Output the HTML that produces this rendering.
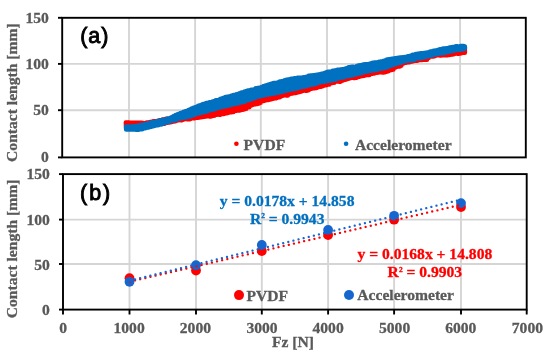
<!DOCTYPE html>
<html><head><meta charset="utf-8"><title>Contact length vs Fz</title>
<style>
html,body{margin:0;padding:0;background:#fff;}
svg{display:block;will-change:transform;}
text{font-family:"Liberation Serif","DejaVu Serif",serif;font-weight:bold;font-size:15.6px;fill:#595959;stroke:#595959;stroke-width:0.3px;}
.lbl{font-family:"Liberation Sans","DejaVu Sans",sans-serif;font-weight:400;font-size:21.5px;fill:#000;stroke:#000;stroke-width:0.9px;letter-spacing:0.9px;}
.be{fill:#0070c0;stroke:#0070c0;} .re{fill:#ff0000;stroke:#ff0000;}
</style></head><body>
<svg width="550" height="353" viewBox="0 0 550 353">
<rect width="550" height="353" fill="#fff"/>
<g id="top">
<line x1="129.0" y1="17.8" x2="129.0" y2="157.4" stroke="#d5d5d5" stroke-width="1.9"/>
<line x1="195.1" y1="17.8" x2="195.1" y2="157.4" stroke="#d5d5d5" stroke-width="1.9"/>
<line x1="260.8" y1="17.8" x2="260.8" y2="157.4" stroke="#d5d5d5" stroke-width="1.9"/>
<line x1="327.0" y1="17.8" x2="327.0" y2="157.4" stroke="#d5d5d5" stroke-width="1.9"/>
<line x1="393.9" y1="17.8" x2="393.9" y2="157.4" stroke="#d5d5d5" stroke-width="1.9"/>
<line x1="460.1" y1="17.8" x2="460.1" y2="157.4" stroke="#d5d5d5" stroke-width="1.9"/>
<line x1="62.2" y1="110.2" x2="525.8" y2="110.2" stroke="#d5d5d5" stroke-width="1.9"/>
<line x1="62.2" y1="63.9" x2="525.8" y2="63.9" stroke="#d5d5d5" stroke-width="1.9"/>
<polygon points="125.9,122.5 127.5,122.5 127.5,122.5 129.1,122.5 129.1,122.8 130.7,122.8 130.7,122.8 132.3,122.8 132.3,122.8 133.9,122.8 133.9,122.7 135.5,122.7 135.5,122.7 137.1,122.7 137.1,122.7 138.7,122.7 138.7,122.9 140.3,122.9 140.3,122.9 141.9,122.9 141.9,123.0 143.5,123.0 143.5,123.2 145.1,123.2 145.1,123.0 146.7,123.0 146.7,122.6 148.3,122.6 148.3,122.5 149.9,122.5 149.9,122.0 151.5,122.0 151.5,121.7 153.1,121.7 153.1,121.4 154.7,121.4 154.7,121.2 156.3,121.2 156.3,121.2 157.9,121.2 157.9,120.8 159.5,120.8 159.5,120.4 161.1,120.4 161.1,120.1 162.7,120.1 162.7,119.5 164.3,119.5 164.3,119.2 165.9,119.2 165.9,118.9 167.5,118.9 167.5,119.0 169.1,119.0 169.1,118.9 170.7,118.9 170.7,118.0 172.3,118.0 172.3,117.3 173.9,117.3 173.9,116.5 175.5,116.5 175.5,115.9 177.1,115.9 177.1,115.2 178.7,115.2 178.7,114.7 180.3,114.7 180.3,114.0 181.9,114.0 181.9,113.1 183.5,113.1 183.5,112.5 185.1,112.5 185.1,111.9 186.7,111.9 186.7,111.5 188.3,111.5 188.3,110.8 189.9,110.8 189.9,110.1 191.5,110.1 191.5,109.2 193.1,109.2 193.1,108.6 194.7,108.6 194.7,108.0 196.3,108.0 196.3,107.4 197.9,107.4 197.9,107.1 199.5,107.1 199.5,106.5 201.1,106.5 201.1,106.0 202.7,106.0 202.7,105.3 204.3,105.3 204.3,104.6 205.9,104.6 205.9,104.3 207.5,104.3 207.5,103.7 209.1,103.7 209.1,103.2 210.7,103.2 210.7,102.6 212.3,102.6 212.3,102.1 213.9,102.1 213.9,101.8 215.5,101.8 215.5,101.3 217.1,101.3 217.1,100.7 218.7,100.7 218.7,100.1 220.3,100.1 220.3,99.6 221.9,99.6 221.9,99.1 223.5,99.1 223.5,98.6 225.1,98.6 225.1,98.4 226.7,98.4 226.7,97.9 228.3,97.9 228.3,97.4 229.9,97.4 229.9,96.6 231.5,96.6 231.5,96.2 233.1,96.2 233.1,95.7 234.7,95.7 234.7,95.3 236.3,95.3 236.3,94.8 237.9,94.8 237.9,94.4 239.5,94.4 239.5,93.9 241.1,93.9 241.1,93.6 242.7,93.6 242.7,93.2 244.3,93.2 244.3,92.6 245.9,92.6 245.9,92.1 247.5,92.1 247.5,91.7 249.1,91.7 249.1,91.5 250.7,91.5 250.7,90.8 252.3,90.8 252.3,90.5 253.9,90.5 253.9,90.1 255.5,90.1 255.5,89.6 257.1,89.6 257.1,89.2 258.7,89.2 258.7,88.5 260.3,88.5 260.3,88.0 261.9,88.0 261.9,87.5 263.5,87.5 263.5,87.1 265.1,87.1 265.1,86.6 266.7,86.6 266.7,86.1 268.3,86.1 268.3,85.8 269.9,85.8 269.9,85.3 271.5,85.3 271.5,84.9 273.1,84.9 273.1,84.3 274.7,84.3 274.7,83.7 276.3,83.7 276.3,83.4 277.9,83.4 277.9,83.1 279.5,83.1 279.5,82.3 281.1,82.3 281.1,82.3 282.7,82.3 282.7,81.6 284.3,81.6 284.3,81.1 285.9,81.1 285.9,80.7 287.5,80.7 287.5,80.4 289.1,80.4 289.1,80.0 290.7,80.0 290.7,79.8 292.3,79.8 292.3,79.8 293.9,79.8 293.9,79.6 295.5,79.6 295.5,79.4 297.1,79.4 297.1,79.1 298.7,79.1 298.7,78.9 300.3,78.9 300.3,78.7 301.9,78.7 301.9,78.4 303.5,78.4 303.5,77.8 305.1,77.8 305.1,77.4 306.7,77.4 306.7,77.1 308.3,77.1 308.3,76.8 309.9,76.8 309.9,76.5 311.5,76.5 311.5,76.2 313.1,76.2 313.1,75.8 314.7,75.8 314.7,75.6 316.3,75.6 316.3,75.6 317.9,75.6 317.9,75.2 319.5,75.2 319.5,74.8 321.1,74.8 321.1,74.5 322.7,74.5 322.7,74.1 324.3,74.1 324.3,73.7 325.9,73.7 325.9,73.3 327.5,73.3 327.5,73.2 329.1,73.2 329.1,72.8 330.7,72.8 330.7,72.2 332.3,72.2 332.3,71.9 333.9,71.9 333.9,71.6 335.5,71.6 335.5,71.0 337.1,71.0 337.1,70.7 338.7,70.7 338.7,70.7 340.3,70.7 340.3,70.0 341.9,70.0 341.9,70.0 343.5,70.0 343.5,69.7 345.1,69.7 345.1,69.3 346.7,69.3 346.7,69.1 348.3,69.1 348.3,68.6 349.9,68.6 349.9,68.4 351.5,68.4 351.5,68.2 353.1,68.2 353.1,67.5 354.7,67.5 354.7,67.2 356.3,67.2 356.3,66.8 357.9,66.8 357.9,66.5 359.5,66.5 359.5,66.5 361.1,66.5 361.1,66.2 362.7,66.2 362.7,65.8 364.3,65.8 364.3,65.5 365.9,65.5 365.9,65.1 367.5,65.1 367.5,64.9 369.1,64.9 369.1,64.6 370.7,64.6 370.7,64.0 372.3,64.0 372.3,64.0 373.9,64.0 373.9,63.6 375.5,63.6 375.5,63.3 377.1,63.3 377.1,63.1 378.7,63.1 378.7,62.9 380.3,62.9 380.3,62.6 381.9,62.6 381.9,62.1 383.5,62.1 383.5,61.5 385.1,61.5 385.1,61.2 386.7,61.2 386.7,60.8 388.3,60.8 388.3,60.4 389.9,60.4 389.9,59.9 391.5,59.9 391.5,59.5 393.1,59.5 393.1,59.2 394.7,59.2 394.7,59.3 396.3,59.3 396.3,58.8 397.9,58.8 397.9,58.8 399.5,58.8 399.5,58.5 401.1,58.5 401.1,58.0 402.7,58.0 402.7,57.8 404.3,57.8 404.3,57.5 405.9,57.5 405.9,57.3 407.5,57.3 407.5,57.0 409.1,57.0 409.1,56.7 410.7,56.7 410.7,56.6 412.3,56.6 412.3,56.0 413.9,56.0 413.9,55.6 415.5,55.6 415.5,55.3 417.1,55.3 417.1,54.9 418.7,54.9 418.7,54.6 420.3,54.6 420.3,54.2 421.9,54.2 421.9,53.9 423.5,53.9 423.5,53.6 425.1,53.6 425.1,53.6 426.7,53.6 426.7,53.2 428.3,53.2 428.3,52.8 429.9,52.8 429.9,52.3 431.5,52.3 431.5,52.0 433.1,52.0 433.1,51.9 434.7,51.9 434.7,51.6 436.3,51.6 436.3,51.2 437.9,51.2 437.9,50.8 439.5,50.8 439.5,50.2 441.1,50.2 441.1,49.9 442.7,49.9 442.7,49.7 444.3,49.7 444.3,49.5 445.9,49.5 445.9,49.2 447.5,49.2 447.5,49.0 449.1,49.0 449.1,48.7 450.7,48.7 450.7,48.3 452.3,48.3 452.3,48.0 453.9,48.0 453.9,47.7 455.5,47.7 455.5,47.4 457.1,47.4 457.1,47.3 458.7,47.3 458.7,47.2 460.3,47.2 460.3,47.1 461.9,47.1 461.9,47.0 463.5,47.0 463.5,47.2 464.8,47.2 464.8,52.7 463.8,52.7 463.8,52.8 462.2,52.8 462.2,53.0 460.6,53.0 460.6,53.5 459.0,53.5 459.0,53.7 457.4,53.7 457.4,53.2 455.8,53.2 455.8,53.4 454.2,53.4 454.2,54.1 452.6,54.1 452.6,54.4 451.0,54.4 451.0,54.8 449.4,54.8 449.4,55.0 447.8,55.0 447.8,55.1 446.2,55.1 446.2,55.1 444.6,55.1 444.6,55.2 443.0,55.2 443.0,55.3 441.4,55.3 441.4,55.4 439.8,55.4 439.8,55.0 438.2,55.0 438.2,55.1 436.6,55.1 436.6,55.0 435.0,55.0 435.0,56.1 433.4,56.1 433.4,56.4 431.8,56.4 431.8,56.0 430.2,56.0 430.2,56.6 428.6,56.6 428.6,58.0 427.0,58.0 427.0,59.7 425.4,59.7 425.4,59.5 423.8,59.5 423.8,59.7 422.2,59.7 422.2,59.9 420.6,59.9 420.6,60.0 419.0,60.0 419.0,60.2 417.4,60.2 417.4,60.8 415.8,60.8 415.8,60.8 414.2,60.8 414.2,61.0 412.6,61.0 412.6,61.4 411.0,61.4 411.0,61.7 409.4,61.7 409.4,62.2 407.8,62.2 407.8,62.3 406.2,62.3 406.2,62.7 404.6,62.7 404.6,62.5 403.0,62.5 403.0,63.8 401.4,63.8 401.4,65.6 399.8,65.6 399.8,66.4 398.2,66.4 398.2,66.1 396.6,66.1 396.6,67.0 395.0,67.0 395.0,67.8 393.4,67.8 393.4,69.4 391.8,69.4 391.8,70.0 390.2,70.0 390.2,70.3 388.6,70.3 388.6,71.1 387.0,71.1 387.0,71.6 385.4,71.6 385.4,72.1 383.8,72.1 383.8,72.5 382.2,72.5 382.2,72.0 380.6,72.0 380.6,72.3 379.0,72.3 379.0,72.5 377.4,72.5 377.4,72.7 375.8,72.7 375.8,72.9 374.2,72.9 374.2,73.5 372.6,73.5 372.6,73.7 371.0,73.7 371.0,74.0 369.4,74.0 369.4,74.9 367.8,74.9 367.8,74.5 366.2,74.5 366.2,75.1 364.6,75.1 364.6,75.6 363.0,75.6 363.0,75.9 361.4,75.9 361.4,76.2 359.8,76.2 359.8,76.6 358.2,76.6 358.2,76.5 356.6,76.5 356.6,77.7 355.0,77.7 355.0,78.0 353.4,78.0 353.4,77.4 351.8,77.4 351.8,77.7 350.2,77.7 350.2,78.3 348.6,78.3 348.6,78.7 347.0,78.7 347.0,79.3 345.4,79.3 345.4,79.7 343.8,79.7 343.8,80.1 342.2,80.1 342.2,80.7 340.6,80.7 340.6,81.6 339.0,81.6 339.0,81.2 337.4,81.2 337.4,81.4 335.8,81.4 335.8,81.8 334.2,81.8 334.2,82.8 332.6,82.8 332.6,83.0 331.0,83.0 331.0,83.1 329.4,83.1 329.4,84.4 327.8,84.4 327.8,84.4 326.2,84.4 326.2,85.3 324.6,85.3 324.6,85.0 323.0,85.0 323.0,86.1 321.4,86.1 321.4,86.6 319.8,86.6 319.8,86.6 318.2,86.6 318.2,87.2 316.6,87.2 316.6,87.9 315.0,87.9 315.0,88.3 313.4,88.3 313.4,88.3 311.8,88.3 311.8,88.7 310.2,88.7 310.2,89.1 308.6,89.1 308.6,90.2 307.0,90.2 307.0,90.7 305.4,90.7 305.4,90.2 303.8,90.2 303.8,90.6 302.2,90.6 302.2,91.1 300.6,91.1 300.6,91.7 299.0,91.7 299.0,92.1 297.4,92.1 297.4,92.5 295.8,92.5 295.8,92.9 294.2,92.9 294.2,93.0 292.6,93.0 292.6,93.4 291.0,93.4 291.0,93.8 289.4,93.8 289.4,94.2 287.8,94.2 287.8,95.5 286.2,95.5 286.2,95.1 284.6,95.1 284.6,95.3 283.0,95.3 283.0,95.7 281.4,95.7 281.4,96.2 279.8,96.2 279.8,97.2 278.2,97.2 278.2,97.4 276.6,97.4 276.6,98.1 275.0,98.1 275.0,98.3 273.4,98.3 273.4,98.7 271.8,98.7 271.8,99.1 270.2,99.1 270.2,99.5 268.6,99.5 268.6,99.9 267.0,99.9 267.0,99.8 265.4,99.8 265.4,100.5 263.8,100.5 263.8,101.0 262.2,101.0 262.2,101.1 260.6,101.1 260.6,102.8 259.0,102.8 259.0,103.4 257.4,103.4 257.4,104.0 255.8,104.0 255.8,104.1 254.2,104.1 254.2,104.2 252.6,104.2 252.6,105.0 251.0,105.0 251.0,105.6 249.4,105.6 249.4,107.1 247.8,107.1 247.8,107.4 246.2,107.4 246.2,108.7 244.6,108.7 244.6,109.3 243.0,109.3 243.0,109.7 241.4,109.7 241.4,110.0 239.8,110.0 239.8,110.4 238.2,110.4 238.2,110.4 236.6,110.4 236.6,110.7 235.0,110.7 235.0,110.8 233.4,110.8 233.4,112.0 231.8,112.0 231.8,112.3 230.2,112.3 230.2,111.8 228.6,111.8 228.6,112.8 227.0,112.8 227.0,113.2 225.4,113.2 225.4,113.5 223.8,113.5 223.8,113.9 222.2,113.9 222.2,113.7 220.6,113.7 220.6,114.6 219.0,114.6 219.0,114.4 217.4,114.4 217.4,114.6 215.8,114.6 215.8,114.8 214.2,114.8 214.2,115.7 212.6,115.7 212.6,115.9 211.0,115.9 211.0,116.4 209.4,116.4 209.4,115.5 207.8,115.5 207.8,116.2 206.2,116.2 206.2,116.5 204.6,116.5 204.6,116.7 203.0,116.7 203.0,116.9 201.4,116.9 201.4,117.2 199.8,117.2 199.8,117.4 198.2,117.4 198.2,117.7 196.6,117.7 196.6,117.5 195.0,117.5 195.0,118.1 193.4,118.1 193.4,118.3 191.8,118.3 191.8,118.3 190.2,118.3 190.2,119.1 188.6,119.1 188.6,119.3 187.0,119.3 187.0,118.8 185.4,118.8 185.4,118.9 183.8,118.9 183.8,119.4 182.2,119.4 182.2,120.1 180.6,120.1 180.6,119.9 179.0,119.9 179.0,120.2 177.4,120.2 177.4,120.5 175.8,120.5 175.8,121.1 174.2,121.1 174.2,121.5 172.6,121.5 172.6,121.8 171.0,121.8 171.0,122.2 169.4,122.2 169.4,122.4 167.8,122.4 167.8,122.7 166.2,122.7 166.2,122.5 164.6,122.5 164.6,123.8 163.0,123.8 163.0,123.3 161.4,123.3 161.4,123.6 159.8,123.6 159.8,123.8 158.2,123.8 158.2,124.0 156.6,124.0 156.6,124.1 155.0,124.1 155.0,125.3 153.4,125.3 153.4,124.7 151.8,124.7 151.8,125.0 150.2,125.0 150.2,126.1 148.6,126.1 148.6,125.7 147.0,125.7 147.0,126.0 145.4,126.0 145.4,127.0 143.8,127.0 143.8,127.2 142.2,127.2 142.2,126.9 140.6,126.9 140.6,127.1 139.0,127.1 139.0,126.8 137.4,126.8 137.4,127.2 135.8,127.2 135.8,127.4 134.2,127.4 134.2,127.4 132.6,127.4 132.6,127.9 131.0,127.9 131.0,127.1 129.4,127.1 129.4,128.3 127.8,128.3 127.8,128.3 126.2,128.3" fill="#ff0000" stroke="#ff0000" stroke-width="4.6" stroke-linejoin="round"/>
<polygon points="126.2,126.6 127.8,126.6 127.8,126.6 129.4,126.6 129.4,126.8 131.0,126.8 131.0,126.5 132.6,126.5 132.6,126.4 134.2,126.4 134.2,126.4 135.8,126.4 135.8,126.2 137.4,126.2 137.4,125.9 139.0,125.9 139.0,125.4 140.6,125.4 140.6,125.0 142.2,125.0 142.2,124.7 143.8,124.7 143.8,124.5 145.4,124.5 145.4,124.1 147.0,124.1 147.0,124.0 148.6,124.0 148.6,123.1 150.2,123.1 150.2,122.8 151.8,122.8 151.8,122.4 153.4,122.4 153.4,122.2 155.0,122.2 155.0,121.9 156.6,121.9 156.6,121.4 158.2,121.4 158.2,120.7 159.8,120.7 159.8,120.7 161.4,120.7 161.4,120.0 163.0,120.0 163.0,119.7 164.6,119.7 164.6,119.5 166.2,119.5 166.2,119.0 167.8,119.0 167.8,118.5 169.4,118.5 169.4,118.2 171.0,118.2 171.0,117.5 172.6,117.5 172.6,116.8 174.2,116.8 174.2,115.7 175.8,115.7 175.8,115.0 177.4,115.0 177.4,114.4 179.0,114.4 179.0,113.8 180.6,113.8 180.6,113.1 182.2,113.1 182.2,112.6 183.8,112.6 183.8,111.9 185.4,111.9 185.4,111.2 187.0,111.2 187.0,110.7 188.6,110.7 188.6,110.1 190.2,110.1 190.2,109.2 191.8,109.2 191.8,108.5 193.4,108.5 193.4,107.8 195.0,107.8 195.0,107.3 196.6,107.3 196.6,106.7 198.2,106.7 198.2,105.9 199.8,105.9 199.8,105.4 201.4,105.4 201.4,104.9 203.0,104.9 203.0,104.1 204.6,104.1 204.6,104.0 206.2,104.0 206.2,103.1 207.8,103.1 207.8,103.1 209.4,103.1 209.4,102.3 211.0,102.3 211.0,102.1 212.6,102.1 212.6,101.6 214.2,101.6 214.2,101.1 215.8,101.1 215.8,100.3 217.4,100.3 217.4,100.2 219.0,100.2 219.0,99.7 220.6,99.7 220.6,98.7 222.2,98.7 222.2,98.2 223.8,98.2 223.8,97.9 225.4,97.9 225.4,97.0 227.0,97.0 227.0,96.8 228.6,96.8 228.6,96.7 230.2,96.7 230.2,96.2 231.8,96.2 231.8,95.5 233.4,95.5 233.4,95.0 235.0,95.0 235.0,94.8 236.6,94.8 236.6,94.3 238.2,94.3 238.2,93.8 239.8,93.8 239.8,93.4 241.4,93.4 241.4,92.6 243.0,92.6 243.0,92.3 244.6,92.3 244.6,91.5 246.2,91.5 246.2,91.1 247.8,91.1 247.8,90.6 249.4,90.6 249.4,90.2 251.0,90.2 251.0,89.9 252.6,89.9 252.6,89.8 254.2,89.8 254.2,89.3 255.8,89.3 255.8,88.4 257.4,88.4 257.4,88.1 259.0,88.1 259.0,87.9 260.6,87.9 260.6,87.5 262.2,87.5 262.2,86.7 263.8,86.7 263.8,86.0 265.4,86.0 265.4,85.6 267.0,85.6 267.0,85.1 268.6,85.1 268.6,84.5 270.2,84.5 270.2,84.0 271.8,84.0 271.8,83.6 273.4,83.6 273.4,83.0 275.0,83.0 275.0,83.2 276.6,83.2 276.6,82.8 278.2,82.8 278.2,82.4 279.8,82.4 279.8,81.5 281.4,81.5 281.4,81.4 283.0,81.4 283.0,81.0 284.6,81.0 284.6,80.3 286.2,80.3 286.2,79.9 287.8,79.9 287.8,79.5 289.4,79.5 289.4,79.2 291.0,79.2 291.0,78.9 292.6,78.9 292.6,78.7 294.2,78.7 294.2,78.4 295.8,78.4 295.8,78.4 297.4,78.4 297.4,77.8 299.0,77.8 299.0,77.8 300.6,77.8 300.6,77.8 302.2,77.8 302.2,77.5 303.8,77.5 303.8,77.4 305.4,77.4 305.4,77.0 307.0,77.0 307.0,76.7 308.6,76.7 308.6,75.9 310.2,75.9 310.2,75.6 311.8,75.6 311.8,75.6 313.4,75.6 313.4,75.3 315.0,75.3 315.0,75.0 316.6,75.0 316.6,74.8 318.2,74.8 318.2,74.5 319.8,74.5 319.8,74.2 321.4,74.2 321.4,73.9 323.0,73.9 323.0,73.5 324.6,73.5 324.6,73.1 326.2,73.1 326.2,72.3 327.8,72.3 327.8,71.9 329.4,71.9 329.4,72.0 331.0,72.0 331.0,71.5 332.6,71.5 332.6,70.9 334.2,70.9 334.2,70.5 335.8,70.5 335.8,70.2 337.4,70.2 337.4,69.7 339.0,69.7 339.0,70.0 340.6,70.0 340.6,69.6 342.2,69.6 342.2,69.3 343.8,69.3 343.8,69.0 345.4,69.0 345.4,68.6 347.0,68.6 347.0,68.1 348.6,68.1 348.6,67.4 350.2,67.4 350.2,67.1 351.8,67.1 351.8,66.8 353.4,66.8 353.4,67.1 355.0,67.1 355.0,66.7 356.6,66.7 356.6,66.4 358.2,66.4 358.2,65.6 359.8,65.6 359.8,65.3 361.4,65.3 361.4,65.0 363.0,65.0 363.0,64.6 364.6,64.6 364.6,64.3 366.2,64.3 366.2,64.2 367.8,64.2 367.8,64.2 369.4,64.2 369.4,63.9 371.0,63.9 371.0,63.3 372.6,63.3 372.6,62.7 374.2,62.7 374.2,62.5 375.8,62.5 375.8,62.7 377.4,62.7 377.4,62.2 379.0,62.2 379.0,61.9 380.6,61.9 380.6,61.5 382.2,61.5 382.2,61.2 383.8,61.2 383.8,60.7 385.4,60.7 385.4,60.2 387.0,60.2 387.0,59.6 388.6,59.6 388.6,59.3 390.2,59.3 390.2,59.1 391.8,59.1 391.8,58.8 393.4,58.8 393.4,58.5 395.0,58.5 395.0,58.3 396.6,58.3 396.6,58.1 398.2,58.1 398.2,57.8 399.8,57.8 399.8,57.6 401.4,57.6 401.4,57.6 403.0,57.6 403.0,57.4 404.6,57.4 404.6,57.1 406.2,57.1 406.2,56.8 407.8,56.8 407.8,56.3 409.4,56.3 409.4,56.0 411.0,56.0 411.0,55.6 412.6,55.6 412.6,54.9 414.2,54.9 414.2,54.5 415.8,54.5 415.8,54.1 417.4,54.1 417.4,53.8 419.0,53.8 419.0,53.5 420.6,53.5 420.6,53.2 422.2,53.2 422.2,53.3 423.8,53.3 423.8,53.0 425.4,53.0 425.4,52.8 427.0,52.8 427.0,52.5 428.6,52.5 428.6,52.2 430.2,52.2 430.2,51.6 431.8,51.6 431.8,51.2 433.4,51.2 433.4,50.9 435.0,50.9 435.0,50.6 436.6,50.6 436.6,50.2 438.2,50.2 438.2,49.7 439.8,49.7 439.8,49.3 441.4,49.3 441.4,49.2 443.0,49.2 443.0,48.6 444.6,48.6 444.6,48.8 446.2,48.8 446.2,48.2 447.8,48.2 447.8,48.0 449.4,48.0 449.4,47.6 451.0,47.6 451.0,47.3 452.6,47.3 452.6,47.1 454.2,47.1 454.2,47.1 455.8,47.1 455.8,46.3 457.4,46.3 457.4,46.8 459.0,46.8 459.0,46.7 460.6,46.7 460.6,46.1 462.2,46.1 462.2,46.0 463.8,46.0 463.8,46.5 464.8,46.5 464.8,48.6 463.8,48.6 463.8,49.2 462.2,49.2 462.2,49.5 460.6,49.5 460.6,49.7 459.0,49.7 459.0,49.5 457.4,49.5 457.4,49.8 455.8,49.8 455.8,50.1 454.2,50.1 454.2,50.7 452.6,50.7 452.6,50.6 451.0,50.6 451.0,51.3 449.4,51.3 449.4,51.7 447.8,51.7 447.8,51.7 446.2,51.7 446.2,52.5 444.6,52.5 444.6,52.9 443.0,52.9 443.0,53.1 441.4,53.1 441.4,53.3 439.8,53.3 439.8,53.5 438.2,53.5 438.2,53.8 436.6,53.8 436.6,54.2 435.0,54.2 435.0,54.6 433.4,54.6 433.4,55.0 431.8,55.0 431.8,55.5 430.2,55.5 430.2,55.6 428.6,55.6 428.6,56.3 427.0,56.3 427.0,56.8 425.4,56.8 425.4,57.1 423.8,57.1 423.8,57.4 422.2,57.4 422.2,57.7 420.6,57.7 420.6,58.2 419.0,58.2 419.0,58.1 417.4,58.1 417.4,58.5 415.8,58.5 415.8,58.8 414.2,58.8 414.2,59.8 412.6,59.8 412.6,60.1 411.0,60.1 411.0,60.4 409.4,60.4 409.4,60.3 407.8,60.3 407.8,60.5 406.2,60.5 406.2,61.0 404.6,61.0 404.6,61.3 403.0,61.3 403.0,61.8 401.4,61.8 401.4,62.6 399.8,62.6 399.8,62.5 398.2,62.5 398.2,63.2 396.6,63.2 396.6,63.7 395.0,63.7 395.0,64.5 393.4,64.5 393.4,64.9 391.8,64.9 391.8,65.2 390.2,65.2 390.2,65.9 388.6,65.9 388.6,66.7 387.0,66.7 387.0,67.4 385.4,67.4 385.4,67.8 383.8,67.8 383.8,68.1 382.2,68.1 382.2,68.5 380.6,68.5 380.6,68.8 379.0,68.8 379.0,69.1 377.4,69.1 377.4,69.4 375.8,69.4 375.8,69.9 374.2,69.9 374.2,70.3 372.6,70.3 372.6,70.4 371.0,70.4 371.0,70.7 369.4,70.7 369.4,71.0 367.8,71.0 367.8,71.5 366.2,71.5 366.2,71.5 364.6,71.5 364.6,71.8 363.0,71.8 363.0,72.6 361.4,72.6 361.4,73.0 359.8,73.0 359.8,73.3 358.2,73.3 358.2,73.7 356.6,73.7 356.6,74.2 355.0,74.2 355.0,74.6 353.4,74.6 353.4,75.0 351.8,75.0 351.8,75.4 350.2,75.4 350.2,75.8 348.6,75.8 348.6,76.2 347.0,76.2 347.0,76.1 345.4,76.1 345.4,76.5 343.8,76.5 343.8,77.4 342.2,77.4 342.2,77.2 340.6,77.2 340.6,77.6 339.0,77.6 339.0,78.1 337.4,78.1 337.4,78.5 335.8,78.5 335.8,79.4 334.2,79.4 334.2,79.3 332.6,79.3 332.6,80.1 331.0,80.1 331.0,80.4 329.4,80.4 329.4,80.7 327.8,80.7 327.8,80.9 326.2,80.9 326.2,81.2 324.6,81.2 324.6,81.6 323.0,81.6 323.0,81.6 321.4,81.6 321.4,81.9 319.8,81.9 319.8,82.5 318.2,82.5 318.2,82.5 316.6,82.5 316.6,83.6 315.0,83.6 315.0,84.0 313.4,84.0 313.4,84.4 311.8,84.4 311.8,84.7 310.2,84.7 310.2,84.9 308.6,84.9 308.6,85.3 307.0,85.3 307.0,85.8 305.4,85.8 305.4,86.4 303.8,86.4 303.8,86.3 302.2,86.3 302.2,86.9 300.6,86.9 300.6,87.2 299.0,87.2 299.0,87.6 297.4,87.6 297.4,88.3 295.8,88.3 295.8,88.7 294.2,88.7 294.2,89.0 292.6,89.0 292.6,89.1 291.0,89.1 291.0,89.5 289.4,89.5 289.4,89.9 287.8,89.9 287.8,90.3 286.2,90.3 286.2,90.7 284.6,90.7 284.6,90.7 283.0,90.7 283.0,91.4 281.4,91.4 281.4,91.9 279.8,91.9 279.8,91.9 278.2,91.9 278.2,92.7 276.6,92.7 276.6,93.0 275.0,93.0 275.0,93.3 273.4,93.3 273.4,93.6 271.8,93.6 271.8,93.7 270.2,93.7 270.2,94.2 268.6,94.2 268.6,94.5 267.0,94.5 267.0,94.8 265.4,94.8 265.4,94.6 263.8,94.6 263.8,95.4 262.2,95.4 262.2,95.8 260.6,95.8 260.6,96.3 259.0,96.3 259.0,96.4 257.4,96.4 257.4,96.9 255.8,96.9 255.8,97.4 254.2,97.4 254.2,98.3 252.6,98.3 252.6,98.8 251.0,98.8 251.0,99.3 249.4,99.3 249.4,100.0 247.8,100.0 247.8,100.2 246.2,100.2 246.2,100.6 244.6,100.6 244.6,101.7 243.0,101.7 243.0,102.0 241.4,102.0 241.4,102.4 239.8,102.4 239.8,102.8 238.2,102.8 238.2,103.2 236.6,103.2 236.6,103.6 235.0,103.6 235.0,103.7 233.4,103.7 233.4,104.3 231.8,104.3 231.8,104.7 230.2,104.7 230.2,105.1 228.6,105.1 228.6,105.5 227.0,105.5 227.0,105.9 225.4,105.9 225.4,106.3 223.8,106.3 223.8,106.7 222.2,106.7 222.2,106.8 220.6,106.8 220.6,107.2 219.0,107.2 219.0,107.8 217.4,107.8 217.4,108.3 215.8,108.3 215.8,108.8 214.2,108.8 214.2,109.2 212.6,109.2 212.6,109.7 211.0,109.7 211.0,110.0 209.4,110.0 209.4,110.4 207.8,110.4 207.8,111.1 206.2,111.1 206.2,111.5 204.6,111.5 204.6,112.0 203.0,112.0 203.0,112.4 201.4,112.4 201.4,112.7 199.8,112.7 199.8,113.1 198.2,113.1 198.2,113.4 196.6,113.4 196.6,113.8 195.0,113.8 195.0,114.7 193.4,114.7 193.4,115.3 191.8,115.3 191.8,115.6 190.2,115.6 190.2,116.4 188.6,116.4 188.6,116.7 187.0,116.7 187.0,117.3 185.4,117.3 185.4,117.5 183.8,117.5 183.8,117.8 182.2,117.8 182.2,117.6 180.6,117.6 180.6,118.5 179.0,118.5 179.0,118.5 177.4,118.5 177.4,119.1 175.8,119.1 175.8,119.9 174.2,119.9 174.2,120.4 172.6,120.4 172.6,120.8 171.0,120.8 171.0,121.1 169.4,121.1 169.4,121.6 167.8,121.6 167.8,122.1 166.2,122.1 166.2,122.6 164.6,122.6 164.6,123.1 163.0,123.1 163.0,123.8 161.4,123.8 161.4,124.4 159.8,124.4 159.8,124.4 158.2,124.4 158.2,125.2 156.6,125.2 156.6,125.3 155.0,125.3 155.0,125.8 153.4,125.8 153.4,126.3 151.8,126.3 151.8,126.6 150.2,126.6 150.2,127.0 148.6,127.0 148.6,127.4 147.0,127.4 147.0,127.8 145.4,127.8 145.4,128.2 143.8,128.2 143.8,128.4 142.2,128.4 142.2,129.2 140.6,129.2 140.6,129.0 139.0,129.0 139.0,129.6 137.4,129.6 137.4,129.8 135.8,129.8 135.8,129.5 134.2,129.5 134.2,129.5 132.6,129.5 132.6,129.5 131.0,129.5 131.0,129.5 129.4,129.5 129.4,129.5 127.8,129.5 127.8,129.5 126.2,129.5" fill="#0070c0" stroke="#0070c0" stroke-width="4.6" stroke-linejoin="round"/>
<rect x="62.2" y="17.8" width="463.6" height="139.6" fill="none" stroke="#000" stroke-width="1.9"/>
<line x1="58" y1="157.4" x2="62.2" y2="157.4" stroke="#000" stroke-width="1.9"/>
<text x="48.9" y="162.3" text-anchor="end">0</text>
<line x1="58" y1="110.2" x2="62.2" y2="110.2" stroke="#000" stroke-width="1.9"/>
<text x="48.9" y="115.3" text-anchor="end">50</text>
<line x1="58" y1="63.9" x2="62.2" y2="63.9" stroke="#000" stroke-width="1.9"/>
<text x="48.9" y="69.0" text-anchor="end">100</text>
<line x1="58" y1="17.8" x2="62.2" y2="17.8" stroke="#000" stroke-width="1.9"/>
<text x="48.9" y="23.0" text-anchor="end">150</text>
<text transform="translate(17,92.6) rotate(-90)" text-anchor="middle">Contact length [mm]</text>
<text class="lbl" x="80.3" y="43.1">(a)</text>
<circle cx="236.4" cy="143.8" r="2.3" fill="#ff0000"/><text x="243.6" y="150.1">PVDF</text>
<circle cx="346.1" cy="143.8" r="2.3" fill="#0070c0"/><text x="354.9" y="150.1">Accelerometer</text>
</g>
<g id="bottom">
<line x1="129.5" y1="174.1" x2="129.5" y2="309.6" stroke="#d5d5d5" stroke-width="1.9"/>
<line x1="196.0" y1="174.1" x2="196.0" y2="309.6" stroke="#d5d5d5" stroke-width="1.9"/>
<line x1="261.8" y1="174.1" x2="261.8" y2="309.6" stroke="#d5d5d5" stroke-width="1.9"/>
<line x1="328.1" y1="174.1" x2="328.1" y2="309.6" stroke="#d5d5d5" stroke-width="1.9"/>
<line x1="394.1" y1="174.1" x2="394.1" y2="309.6" stroke="#d5d5d5" stroke-width="1.9"/>
<line x1="461.0" y1="174.1" x2="461.0" y2="309.6" stroke="#d5d5d5" stroke-width="1.9"/>
<line x1="63.0" y1="264.0" x2="526.7" y2="264.0" stroke="#d5d5d5" stroke-width="1.9"/>
<line x1="63.0" y1="219.6" x2="526.7" y2="219.6" stroke="#d5d5d5" stroke-width="1.9"/>
<circle cx="129.5" cy="278.2" r="4.9" fill="#ff0000"/>
<circle cx="196.0" cy="270.5" r="4.9" fill="#ff0000"/>
<circle cx="261.8" cy="251.0" r="4.9" fill="#ff0000"/>
<circle cx="328.1" cy="235.0" r="4.9" fill="#ff0000"/>
<circle cx="394.1" cy="219.7" r="4.9" fill="#ff0000"/>
<circle cx="461.0" cy="207.0" r="4.9" fill="#ff0000"/>
<circle cx="129.5" cy="281.8" r="4.9" fill="#1666d0"/>
<circle cx="196.0" cy="265.2" r="4.9" fill="#1666d0"/>
<circle cx="261.8" cy="245.0" r="4.9" fill="#1666d0"/>
<circle cx="328.1" cy="229.9" r="4.9" fill="#1666d0"/>
<circle cx="394.1" cy="215.8" r="4.9" fill="#1666d0"/>
<circle cx="461.0" cy="203.1" r="4.9" fill="#1666d0"/>
<line x1="129.5" y1="281.70" x2="461.0" y2="204.82" stroke="#ff0000" stroke-width="2.3" stroke-linecap="round" stroke-dasharray="0.01 5.25" stroke-dashoffset="-0.45"/>
<line x1="129.5" y1="280.75" x2="461.0" y2="199.70" stroke="#1666d0" stroke-width="2.3" stroke-linecap="round" stroke-dasharray="0.01 5.25" stroke-dashoffset="-0.45"/>
<rect x="63.0" y="174.1" width="463.7" height="135.5" fill="none" stroke="#000" stroke-width="1.9"/>
<line x1="59" y1="309.6" x2="63.0" y2="309.6" stroke="#000" stroke-width="1.9"/>
<text x="49.9" y="314.8" text-anchor="end">0</text>
<line x1="59" y1="264.0" x2="63.0" y2="264.0" stroke="#000" stroke-width="1.9"/>
<text x="49.9" y="270.0" text-anchor="end">50</text>
<line x1="59" y1="219.6" x2="63.0" y2="219.6" stroke="#000" stroke-width="1.9"/>
<text x="49.9" y="224.7" text-anchor="end">100</text>
<line x1="59" y1="174.1" x2="63.0" y2="174.1" stroke="#000" stroke-width="1.9"/>
<text x="49.9" y="179.4" text-anchor="end">150</text>
<line x1="63.0" y1="309.6" x2="63.0" y2="314.5" stroke="#000" stroke-width="1.9"/>
<text x="63.1" y="333.2" text-anchor="middle">0</text>
<line x1="129.5" y1="309.6" x2="129.5" y2="314.5" stroke="#000" stroke-width="1.9"/>
<text x="129.1" y="333.2" text-anchor="middle">1000</text>
<line x1="196.0" y1="309.6" x2="196.0" y2="314.5" stroke="#000" stroke-width="1.9"/>
<text x="195.4" y="333.2" text-anchor="middle">2000</text>
<line x1="261.8" y1="309.6" x2="261.8" y2="314.5" stroke="#000" stroke-width="1.9"/>
<text x="262.0" y="333.2" text-anchor="middle">3000</text>
<line x1="328.1" y1="309.6" x2="328.1" y2="314.5" stroke="#000" stroke-width="1.9"/>
<text x="328.1" y="333.2" text-anchor="middle">4000</text>
<line x1="394.1" y1="309.6" x2="394.1" y2="314.5" stroke="#000" stroke-width="1.9"/>
<text x="394.6" y="333.2" text-anchor="middle">5000</text>
<line x1="461.0" y1="309.6" x2="461.0" y2="314.5" stroke="#000" stroke-width="1.9"/>
<text x="460.8" y="333.2" text-anchor="middle">6000</text>
<line x1="526.7" y1="309.6" x2="526.7" y2="314.5" stroke="#000" stroke-width="1.9"/>
<text x="527.4" y="333.2" text-anchor="middle">7000</text>
<text transform="translate(17,248.9) rotate(-90)" text-anchor="middle">Contact length [mm]</text>
<text x="293" y="346.5" text-anchor="middle">Fz [N]</text>
<text class="lbl" x="80.1" y="200.0" style="letter-spacing:1.9px">(b)</text>
<text class="be" x="287.1" y="205.7" text-anchor="middle">y = 0.0178x + 14.858</text>
<text class="be" x="287.2" y="223.5" text-anchor="middle">R<tspan font-size="12.4" dy="-2.1">²</tspan><tspan dy="2.1"> = 0.9943</tspan></text>
<text class="re" x="424.9" y="258.7" text-anchor="middle">y = 0.0168x + 14.808</text>
<text class="re" x="424.9" y="276.7" text-anchor="middle">R<tspan font-size="12.4" dy="-2.1">²</tspan><tspan dy="2.1"> = 0.9903</tspan></text>
<circle cx="239" cy="295.1" r="5" fill="#ff0000"/><text x="246.4" y="300.5">PVDF</text>
<circle cx="349" cy="295" r="5" fill="#1666d0"/><text x="357.3" y="300.3">Accelerometer</text>
</g>
</svg></body></html>
